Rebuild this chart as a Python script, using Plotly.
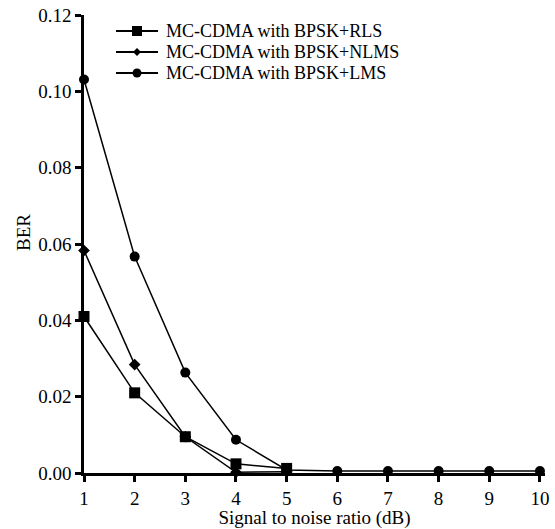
import plotly.graph_objects as go

snr = [1, 2, 3, 4, 5, 6, 7, 8, 9, 10]
snr_short = [1, 2, 3, 4, 5]
ber_rls = [0.0410, 0.0210, 0.0095, 0.0024, 0.0012]
ber_nlms = [0.0583, 0.0284, 0.0095, 0.0002, 0.0003]
ber_lms = [0.1031, 0.0567, 0.0263, 0.0087, 0.0008, 0.0005, 0.0005, 0.0005, 0.0005, 0.0005]
y_ticks = [0, 0.02, 0.04, 0.06, 0.08, 0.10, 0.12]
series_names = ["MC-CDMA with BPSK+RLS", "MC-CDMA with BPSK+NLMS", "MC-CDMA with BPSK+LMS"]
symbols = ["square", "diamond", "circle"]
marker_sizes = [11, 9, 10]

W, H = 555, 529
L, R, T, B = 84, 10, 15, 56
pw, ph = W - L - R, H - T - B

fig = go.Figure()
for xs, ys, name, sym, ms in zip([snr_short, snr_short, snr], [ber_rls, ber_nlms, ber_lms],
                                 series_names, symbols, marker_sizes):
    fig.add_trace(go.Scatter(x=xs, y=ys, mode="lines+markers", name=name,
                             line=dict(color="black", width=1.5),
                             marker=dict(symbol=sym, size=ms, color="black"), cliponaxis=False))

font = "Liberation Serif, Times New Roman, serif"

# manual compact legend (pixel positions converted to paper coords)
def px2x(px):
    return (px - L) / pw

def py2y(py):
    return (H - B - py) / ph

shapes = []
annotations = []
rows_y = [31, 52, 73]
for i, (name, sym) in enumerate(zip(series_names, symbols)):
    yy = py2y(rows_y[i])
    shapes.append(dict(type="line", xref="paper", yref="paper", x0=px2x(116), x1=px2x(158), y0=yy, y1=yy,
                       line=dict(color="black", width=2)))
    xc = px2x(137)
    if sym == "square":
        shapes.append(dict(type="rect", xref="paper", yref="paper", xsizemode="pixel", ysizemode="pixel",
                           xanchor=xc, yanchor=yy, x0=-5, x1=5, y0=-5, y1=5,
                           fillcolor="black", line=dict(width=0)))
    elif sym == "circle":
        shapes.append(dict(type="circle", xref="paper", yref="paper", xsizemode="pixel", ysizemode="pixel",
                           xanchor=xc, yanchor=yy, x0=-4.5, x1=4.5, y0=-4.5, y1=4.5,
                           fillcolor="black", line=dict(width=0)))
    else:
        shapes.append(dict(type="path", xref="paper", yref="paper", xsizemode="pixel", ysizemode="pixel",
                           xanchor=xc, yanchor=yy, path="M -4 0 L 0 4 L 4 0 L 0 -4 Z",
                           fillcolor="black", line=dict(width=0)))
    annotations.append(dict(x=px2x(165), y=yy, xref="paper", yref="paper", text=name, showarrow=False,
                            xanchor="left", yanchor="middle", borderpad=0,
                            font=dict(family=font, size=18, color="black")))

# y-axis title placed as in the reference (slightly above centre)
annotations.append(dict(x=px2x(23), y=py2y(232), xref="paper", yref="paper", text="BER", showarrow=False,
                        textangle=-90, xanchor="center", yanchor="middle",
                        font=dict(family=font, size=19, color="black")))

fig.update_layout(
    width=W, height=H,
    margin=dict(l=L, r=R, t=T, b=B),
    paper_bgcolor="white", plot_bgcolor="white",
    font=dict(family=font, size=19, color="black"),
    showlegend=False,
    shapes=shapes,
    annotations=annotations,
)
fig.update_xaxes(range=[1, 10.1], tickvals=snr, showline=True, linecolor="black", linewidth=2.5,
                 ticks="outside", ticklen=6, tickwidth=2.5, tickcolor="black", showgrid=False, zeroline=False,
                 automargin=False, tickfont=dict(size=19),
                 title=dict(text="Signal to noise ratio (dB)", standoff=2, font=dict(size=19)))
fig.update_yaxes(range=[0, 0.12], tickvals=y_ticks, tickformat=".2f",
                 showline=True, linecolor="black", linewidth=2.5,
                 ticks="outside", ticklen=6, tickwidth=2.5, tickcolor="black", showgrid=False, zeroline=False,
                 automargin=False, tickfont=dict(size=19))

fig.write_html("out.html", config={"displayModeBar": False},
               post_script="document.body.style.margin='0';document.body.style.overflow='hidden';")
